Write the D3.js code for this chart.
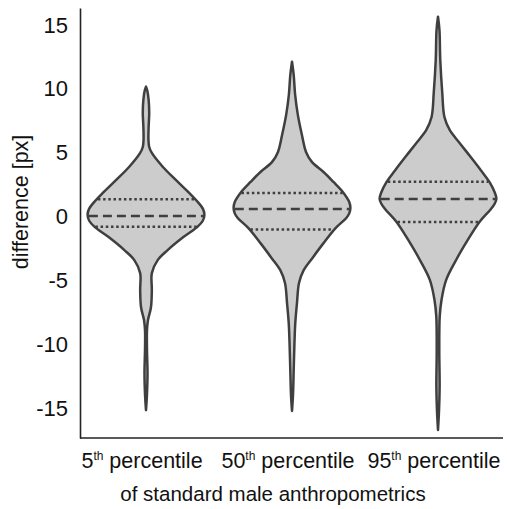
<!DOCTYPE html>
<html lang="en">
<head>
  <meta charset="UTF-8">
  <title>Violin plot</title>
  <script src="https://d3js.org/d3.v7.min.js"></script>
  <style>
    body { margin: 0; background: #fff; }
    svg { display: block; }
    text { font-family: "Liberation Sans", Arial, sans-serif; fill: #111; }
    .violin { fill: #cccccc; stroke: #3f3f3f; stroke-width: 2.5; stroke-linejoin: round; }
    .median { stroke: #3f3f3f; stroke-width: 2.5; stroke-dasharray: 9,5; }
    .quart { stroke: #3f3f3f; stroke-width: 2.5; stroke-dasharray: 2.5,2.7; }
    .spine { stroke: #222; stroke-width: 1.6; }
  </style>
</head>
<body>
  <div id="chart"></div>
  <script>
    // categories + tick labels
    var categories = ["5th", "50th", "95th"];
    var catNumbers = ["5", "50", "95"];
    var yTicks = [-15, -10, -5, 0, 5, 10, 15];

    // violin outlines: value -> relative density (1 = widest)
    var p5Values = [10.17, 9.91, 9.14, 8.11, 7.02, 6.0, 5.45, 4.98, 3.88, 2.87, 1.85, 1.07, 0.6, 0.13,
      -0.35, -0.81, -1.61, -2.63, -3.41, -4.43, -5.76, -7.1, -8.1, -8.9, -10.46, -12.26, -13.98, -15.16];
    var p5Density = [0, 0.02, 0.045, 0.055, 0.045, 0.042, 0.055, 0.10, 0.29, 0.51, 0.74, 0.90, 0.975, 1.0,
      0.97, 0.88, 0.64, 0.37, 0.20, 0.10, 0.10, 0.085, 0.034, 0.017, 0.017, 0.026, 0.016, 0];
    var p5Quartiles = [-0.79, 0.05, 1.36];

    var p50Values = [12.13, 11.09, 9.52, 7.96, 6.39, 5.06, 4.28, 3.49, 2.71, 1.93, 1.14, 0.67, 0.25, -0.11,
      -0.89, -2.08, -3.18, -4.2, -5.21, -6.78, -8.35, -9.92, -12.03, -13.99, -15.22];
    var p50Density = [0, 0.029, 0.054, 0.10, 0.17, 0.24, 0.34, 0.54, 0.71, 0.87, 0.98, 1.0, 0.98, 0.93,
      0.75, 0.54, 0.36, 0.20, 0.12, 0.085, 0.056, 0.042, 0.029, 0.017, 0];
    var p50Quartiles = [-1.01, 0.6, 1.84];

    var p95Values = [15.65, 14.61, 12.26, 9.68, 7.79, 6.78, 5.76, 4.66, 3.65, 2.71, 1.9, 1.4, 1.0,
      0.55, -0.42, -1.83, -3.4, -4.96, -6.53, -7.86, -10.45, -13.35, -15.15, -16.71];
    var p95Density = [0, 0.025, 0.039, 0.073, 0.11, 0.20, 0.37, 0.56, 0.73, 0.88, 0.97, 1.0, 0.97,
      0.90, 0.71, 0.51, 0.31, 0.14, 0.06, 0.029, 0.022, 0.028, 0.018, 0];
    var p95Quartiles = [-0.42, 1.38, 2.73];

    var violins = [
      { cat: categories[0], values: p5Values, density: p5Density, quartiles: p5Quartiles },
      { cat: categories[1], values: p50Values, density: p50Density, quartiles: p50Quartiles },
      { cat: categories[2], values: p95Values, density: p95Density, quartiles: p95Quartiles }
    ];

    var width = 507, height = 509;
    var svg = d3.select("#chart").append("svg")
      .attr("width", width)
      .attr("height", height);

    var x = d3.scaleBand().domain(categories).range([73, 511]).padding(0);
    var y = d3.scaleLinear().domain([-17.34, 16.33]).range([438, 8]);
    var w = d3.scaleLinear().domain([0, 1]).range([0, x.bandwidth() * 0.4]);

    // half width at a given value, linear between read points
    function widthAt(v, d) {
      for (var i = 0; i < d.values.length - 1; i++) {
        var a = d.values[i], b = d.values[i + 1];
        if (v <= a && v >= b) {
          var t = (a - v) / (a - b);
          return d.density[i] + t * (d.density[i + 1] - d.density[i]);
        }
      }
      return 0;
    }

    var g = svg.selectAll(".vg")
      .data(violins)
      .enter().append("g")
      .attr("class", "vg");

    g.each(function (d) {
      var cx = x(d.cat) + x.bandwidth() / 2;
      var pts = d.values.map(function (v, i) { return [v, d.density[i]]; });
      var area = d3.area()
        .y(function (p) { return y(p[0]); })
        .x0(function (p) { return cx - w(p[1]); })
        .x1(function (p) { return cx + w(p[1]); })
        .curve(d3.curveCatmullRom.alpha(0.5));
      d3.select(this).append("path")
        .attr("class", "violin")
        .attr("d", area(pts));

      d.quartiles.forEach(function (q, i) {
        var hw = w(widthAt(q, d)) - 1;
        d3.select(this).append("line")
          .attr("class", i === 1 ? "median" : "quart")
          .attr("x1", cx - hw)
          .attr("x2", cx + hw)
          .attr("y1", y(q))
          .attr("y2", y(q));
      }, this);
    });

    // y axis
    var yAxis = d3.axisLeft(y)
      .tickValues(yTicks)
      .tickSize(0)
      .tickSizeOuter(0)
      .tickPadding(12)
      .tickFormat(function (d) { return String(d); });

    var ya = svg.append("g")
      .attr("transform", "translate(80,0)")
      .call(yAxis);
    ya.select(".domain").attr("class", "domain spine").attr("stroke", "#222");
    ya.selectAll("text").style("font-size", "22px").attr("fill", "#111");

    // bottom spine
    svg.append("line")
      .attr("class", "spine")
      .attr("x1", 80).attr("x2", 503)
      .attr("y1", 438).attr("y2", 438);

    // x tick labels with superscript
    var xl = svg.selectAll(".xlab")
      .data(categories)
      .enter().append("text")
      .attr("class", "xlab")
      .attr("x", function (d) { return x(d) + x.bandwidth() / 2 - 4; })
      .attr("y", 468)
      .attr("text-anchor", "middle")
      .style("font-size", "21.5px");
    xl.append("tspan").text(function (d, i) { return catNumbers[i]; });
    xl.append("tspan").attr("dy", -8).style("font-size", "12px").text("th");
    xl.append("tspan").attr("dy", 8).text(" percentile");

    svg.append("text")
      .attr("x", 273)
      .attr("y", 501)
      .attr("text-anchor", "middle")
      .style("font-size", "20.5px")
      .text("of standard male anthropometrics");

    svg.append("text")
      .attr("transform", "translate(28,202) rotate(-90)")
      .attr("text-anchor", "middle")
      .style("font-size", "21.5px")
      .text("difference [px]");
  </script>
</body>
</html>
